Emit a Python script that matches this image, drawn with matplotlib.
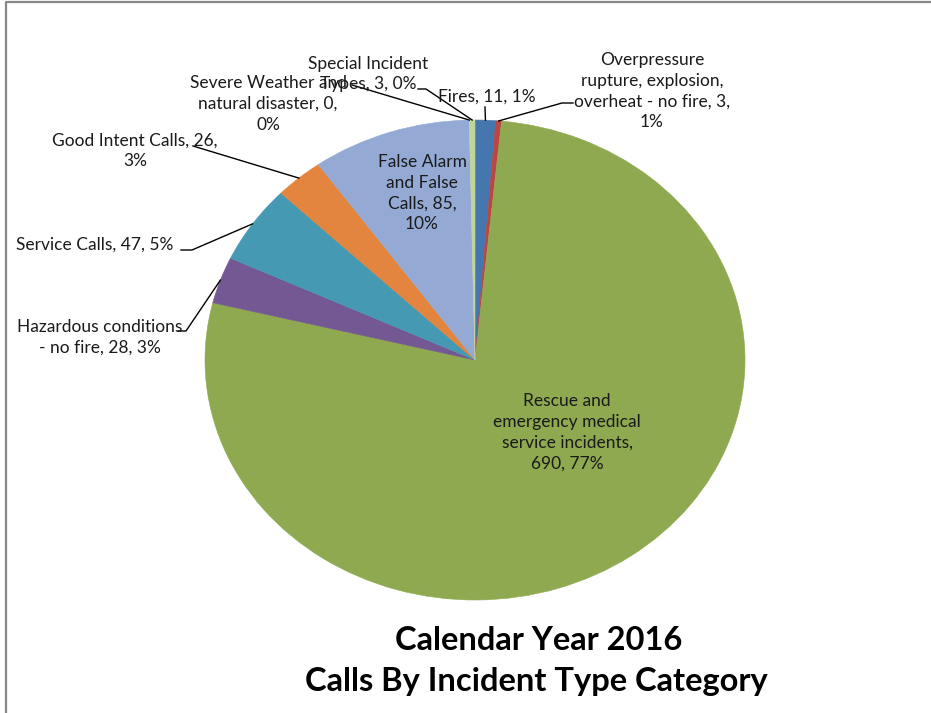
"""
Calendar Year 2016 calls by incident type category, as an Excel-style
stretched pie with outside labels and leader lines.
"""
import matplotlib
import numpy as np

matplotlib.use('Agg')
import matplotlib.pyplot as plt  # noqa: E402
from matplotlib.lines import Line2D  # noqa: E402

# categories in Excel order: clockwise from 12 o'clock
CATEGORIES = ['Fires',
              'Overpressure rupture, explosion, overheat - no fire',
              'Rescue and emergency medical service incidents',
              'Hazardous conditions - no fire',
              'Service Calls',
              'Good Intent Calls',
              'False Alarm and False Calls',
              'Severe Weather and natural disaster',
              'Special Incident Types']
COUNTS = [11, 3, 690, 28, 47, 26, 85, 0, 3]
PCTS = [1, 1, 77, 3, 5, 3, 10, 0, 0]   # as printed on the chart
COLORS = ['#4676AE', '#BB4542', '#8EA94F', '#735893', '#4599B2',
          '#E3853E', '#94AAD4', '#E6B9B8', '#C0D59A']

# label text as wrapped on the chart
LABEL_TEXTS = ['Fires, 11, 1%',
               'Overpressure\nrupture, explosion,\noverheat - no fire, 3,\n1%',
               'Rescue and\nemergency medical\nservice incidents,\n690, 77%',
               'Hazardous conditions\n- no fire, 28, 3%',
               'Service Calls, 47, 5%',
               'Good Intent Calls, 26,\n3%',
               'False Alarm\nand False\nCalls, 85,\n10%',
               'Severe Weather and\nnatural disaster, 0,\n0%',
               'Special Incident\nTypes, 3, 0%']

W, H = 931, 713
CX, CY, RX, RY = 475, 360, 270, 240     # pie centre / radii in pixels

# label centre (px) and leader start (px, or None for inside labels)
LABEL_POS = [(487, 97), (652, 91), (567, 432), (100, 337), (95, 245),
             (135, 151), (422, 193), (268, 104), (368, 74)]
LEADER_PTS = [[(485, 107)],
              [(573, 103), (562, 103)],
              None,
              [(178, 331), (186, 331)],
              [(181, 250), (192, 250)],
              [(193, 146)],
              None,
              [(352, 85)],
              [(418, 89), (426, 89)]]

FONT = 'Lato'

fig = plt.figure(figsize=(W / 100, H / 100), dpi=100)
ax = fig.add_axes([(CX - RX) / W, (H - CY - RY) / H, 2 * RX / W, 2 * RY / H])
wedges, _ = ax.pie(COUNTS, colors=COLORS, startangle=90, counterclock=False,
                   radius=1, wedgeprops=dict(linewidth=0.4))
for w in wedges:
    w.set_edgecolor(w.get_facecolor())
ax.set_aspect('auto')
ax.set_xlim(-1, 1)
ax.set_ylim(-1, 1)
ax.axis('off')


def px2data(x, y):
    return (x - CX) / RX, (CY - y) / RY


for w, txt, (lx, ly), pts in zip(wedges, LABEL_TEXTS, LABEL_POS, LEADER_PTS):
    fig.text(lx / W, 1 - ly / H, txt, ha='center', va='center',
             fontsize=12.5, family=FONT, color='#1a1a1a', linespacing=1.38)
    if pts is None:
        continue
    mid = np.deg2rad((w.theta1 + w.theta2) / 2)
    xs = [px2data(*p)[0] for p in pts] + [np.cos(mid)]
    ys = [px2data(*p)[1] for p in pts] + [np.sin(mid)]
    ax.plot(xs, ys, color='black', lw=1.0, clip_on=False)

fig.text(539 / W, 1 - 640 / H, 'Calendar Year 2016', ha='center', va='center',
         fontsize=23.5, fontweight='bold', family=FONT)
fig.text(536 / W, 1 - 682 / H, 'Calls By Incident Type Category',
         ha='center', va='center', fontsize=23.5, fontweight='bold', family=FONT)

# chart-area frame (only top and left edges are inside the picture)
fig.add_artist(Line2D([6 / W, 6 / W, 1], [0, 1 - 2 / H, 1 - 2 / H],
                      color='#888888', lw=1.6, transform=fig.transFigure))

fig.savefig('out.png', dpi=100)
